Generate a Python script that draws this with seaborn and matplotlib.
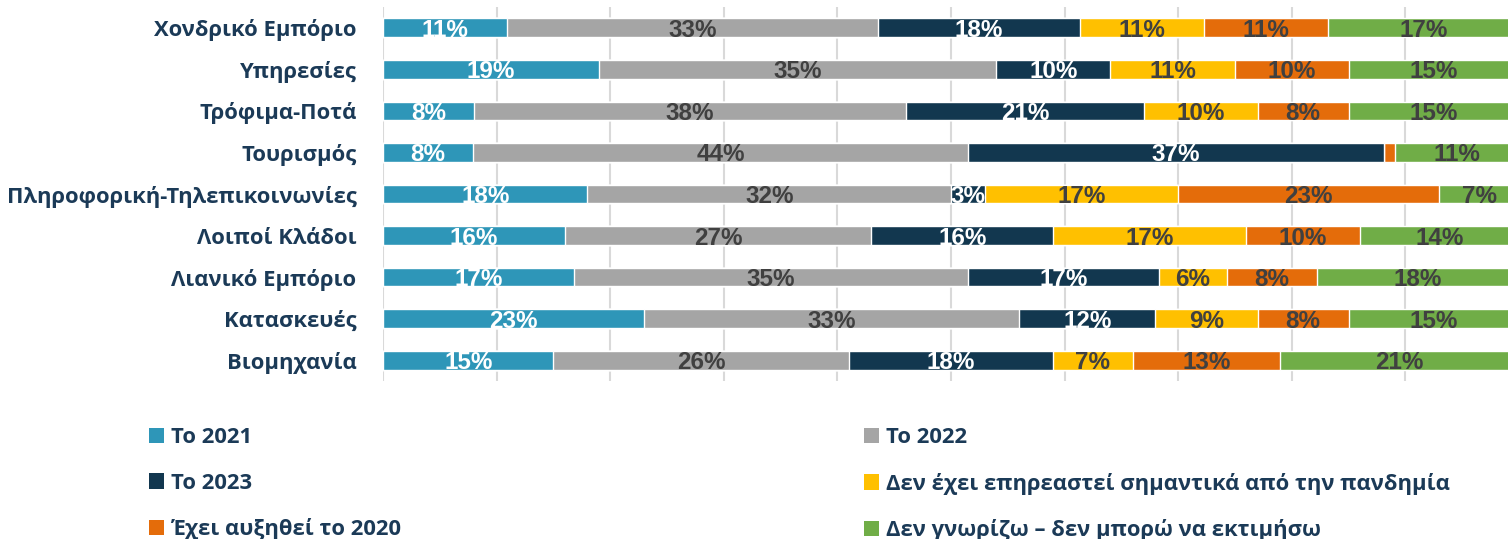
import numpy as np
import pandas as pd
import matplotlib
matplotlib.use("Agg")
import matplotlib.pyplot as plt
from matplotlib.patches import Patch
from matplotlib import font_manager
import seaborn as sns

categories = ["Χονδρικό Εμπόριο", "Υπηρεσίες", "Τρόφιμα-Ποτά", "Τουρισμός",
              "Πληροφορική-Τηλεπικοινωνίες", "Λοιποί Κλάδοι", "Λιανικό Εμπόριο",
              "Κατασκευές", "Βιομηχανία"]
series_names = ["Το 2021", "Το 2022", "Το 2023",
                "Δεν έχει επηρεαστεί σημαντικά από την πανδημία",
                "Έχει αυξηθεί το 2020", "Δεν γνωρίζω – δεν μπορώ να εκτιμήσω"]
v2021 = [11, 19, 8, 8, 18, 16, 17, 23, 15]
v2022 = [33, 35, 38, 44, 32, 27, 35, 33, 26]
v2023 = [18, 10, 21, 37, 3, 16, 17, 12, 18]
v_unaffected = [11, 11, 10, 0, 17, 17, 6, 9, 7]
v_increased = [11, 10, 8, 1, 23, 10, 8, 8, 13]
v_dontknow = [17, 15, 15, 11, 7, 14, 18, 15, 21]

colors = ["#2E96B8", "#A5A5A5", "#12374F", "#FFC000", "#E46C0A", "#70AD47"]
label_colors = ["white", "#404040", "white", "#404040", "#404040", "#404040"]
navy = "#1B3A57"

sns.set_theme(style="white")
names = {f.name for f in font_manager.fontManager.ttflist}
cat_font = "Open Sans" if "Open Sans" in names else "DejaVu Sans"
num_font = "Liberation Sans Narrow" if "Liberation Sans Narrow" in names else (
    "DejaVu Sans Condensed" if "DejaVu Sans Condensed" in names else "Liberation Sans")
plt.rcParams["font.family"] = [cat_font, "DejaVu Sans"]

values = np.array([v2021, v2022, v2023, v_unaffected, v_increased, v_dontknow], dtype=float)
shares = values / values.sum(axis=0, keepdims=True)
cum = np.cumsum(shares, axis=0)

fig = plt.figure(figsize=(15.08, 5.39), dpi=100)
ax = fig.add_axes([383 / 1508, 1 - 381 / 539, 1136 / 1508, 374 / 539])

for k in range(len(series_names) - 1, -1, -1):
    df = pd.DataFrame({"cat": categories, "val": cum[k]})
    sns.barplot(data=df, y="cat", x="val", color=colors[k], orient="h",
                width=0.45, ax=ax, saturation=1, zorder=2)

for k in range(len(series_names)):
    for i in range(len(categories)):
        v = values[k, i]
        if v >= 2:
            xc = cum[k, i] - shares[k, i] / 2
            ax.text(xc, i + 0.06, f"{int(v)}%", ha="center", va="center",
                    fontsize=17.5, fontweight="bold", color=label_colors[k],
                    family=[num_font, "DejaVu Sans"], zorder=3)

ax.set_xlim(0, 1)
ax.set_ylim(len(categories) - 0.5, -0.5)
ax.set_xticks(np.arange(0, 1.01, 0.1))
ax.set_xticklabels([])
ax.xaxis.grid(True, color="#D9D9D9", linewidth=1.5, zorder=0)
ax.set_axisbelow(True)
for s in ax.spines.values():
    s.set_visible(False)
ax.set_xlabel("")
ax.set_ylabel("")
ax.tick_params(axis="y", length=0, pad=19)
ax.tick_params(axis="x", length=0)
ax.set_yticks(range(len(categories)))
ax.set_yticklabels(categories, family=[cat_font, "DejaVu Sans"], fontweight="bold",
                   fontsize=15.8, color=navy)

handles = [Patch(facecolor=c, edgecolor="none") for c in colors]
common = dict(frameon=False, loc="upper left", handlelength=0.7, handleheight=0.7,
              handletextpad=0.3, borderpad=0, borderaxespad=0, labelspacing=1.12,
              prop={"family": [cat_font, "DejaVu Sans"], "weight": "bold", "size": 15.8})
leg1 = fig.legend([handles[0], handles[2], handles[4]],
                  [series_names[0], series_names[2], series_names[4]],
                  bbox_to_anchor=(149 / 1508, 1 - 427 / 539), **common)
leg2 = fig.legend([handles[1], handles[3], handles[5]],
                  [series_names[1], series_names[3], series_names[5]],
                  bbox_to_anchor=(864 / 1508, 1 - 427 / 539), **common)
for leg in (leg1, leg2):
    for t in leg.get_texts():
        t.set_color(navy)

fig.savefig("out.png", dpi=100, facecolor="white")
